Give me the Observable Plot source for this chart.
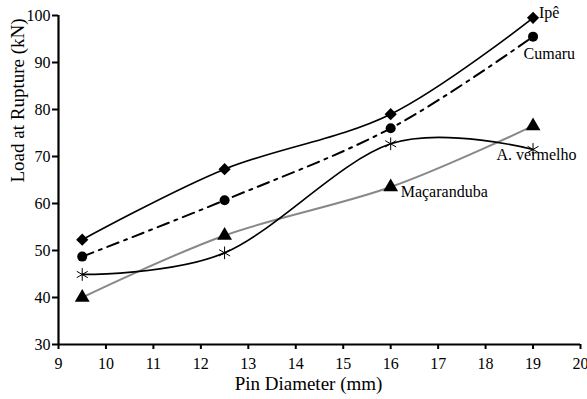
<!DOCTYPE html>
<html><head><meta charset="utf-8">
<script src="https://cdn.jsdelivr.net/npm/d3@7"></script>
<script src="https://cdn.jsdelivr.net/npm/@observablehq/plot@0.6"></script>
<style>body{margin:0;background:#fff} svg, svg text, svg g{font-family:"Liberation Serif", "DejaVu Serif", serif !important}</style>
</head><body><div id="chart"></div>
<script>
const diameters = [9.5, 12.5, 16, 19];
const ipe = [52.3, 67.3, 79.0, 99.5];
const cumaru = [48.7, 60.7, 76.0, 95.5];
const macaranduba = [40.0, 53.2, 63.5, 76.5];
const vermelho = [44.9, 49.5, 72.7, 71.5];
const xTicks = [9,10,11,12,13,14,15,16,17,18,19,20];
const yTicks = [30,40,50,60,70,80,90,100];

const FONT = "Liberation Serif";
const mk = (name, vals) => diameters.map((d,i)=>({name, x:d, y:vals[i]}));
const sIpe = mk("Ipê", ipe), sCum = mk("Cumaru", cumaru), sMac = mk("Maçaranduba", macaranduba), sVer = mk("A. vermelho", vermelho);
const label = (x, y, t, dx, dy) => Plot.text([{x, y, t}], {x:"x", y:"y", text:"t", dx, dy, textAnchor:"start", lineAnchor:"middle", fontSize:16, fill:"#000", fontFamily: FONT});

const chart = Plot.plot({
  width: 587, height: 399,
  marginLeft: 58, marginRight: 7, marginTop: 15, marginBottom: 55,
  style: {fontFamily: FONT, fontSize: "16px", color: "#000", background: "#fff"},
  x: {domain:[9,20], label: null},
  y: {domain:[30,100], label: null},
  marks: [
    Plot.axisX({ticks: xTicks, tickSize: 5, tickPadding: 8, strokeWidth: 2, fontSize: 16, fontFamily: FONT, label: null}),
    Plot.axisY({ticks: yTicks, tickSize: 6, tickPadding: 2, strokeWidth: 2, fontSize: 16, fontFamily: FONT, label: null}),
    Plot.ruleX([9], {strokeWidth: 2.2}),
    Plot.ruleY([30], {strokeWidth: 2.2}),
    Plot.line(sMac, {x:"x", y:"y", stroke:"#888", strokeWidth:2, curve:"cardinal"}),
    Plot.line(sVer, {x:"x", y:"y", stroke:"#000", strokeWidth:1.7, curve:"cardinal"}),
    Plot.line(sCum, {x:"x", y:"y", stroke:"#000", strokeWidth:2, strokeDasharray:"12,6,3,6", curve:"cardinal"}),
    Plot.line(sIpe, {x:"x", y:"y", stroke:"#000", strokeWidth:1.7, curve:"cardinal"}),
    Plot.dot(sIpe, {x:"x", y:"y", symbol:"diamond2", fill:"#000", r:5.5}),
    Plot.dot(sCum, {x:"x", y:"y", symbol:"circle", fill:"#000", r:5}),
    Plot.dot(sMac, {x:"x", y:"y", symbol:"triangle", fill:"#000", r:5.5}),
    Plot.dot(sVer, {x:"x", y:"y", symbol:"asterisk", stroke:"#000", strokeWidth:1, r:6}),
    label(19, ipe[3], "Ipê", 6, -5),
    label(19, cumaru[3], "Cumaru", -9.5, 17),
    label(19, vermelho[3], "A. vermelho", -36.5, 5),
    label(16, macaranduba[2], "Maçaranduba", 10, 4.5),
    Plot.text(["Pin Diameter (mm)"], {frameAnchor:"bottom", lineAnchor:"middle", dx:-11, dy:39.5, fontSize:19, fill:"#000", fontFamily: FONT}),
    Plot.text(["Load at Rupture (kN)"], {frameAnchor:"left", lineAnchor:"middle", dx:-41, dy:2.5, rotate:-90, fontSize:19, fill:"#000", fontFamily: FONT})
  ]
});
document.getElementById("chart").appendChild(chart);
</script></body></html>
